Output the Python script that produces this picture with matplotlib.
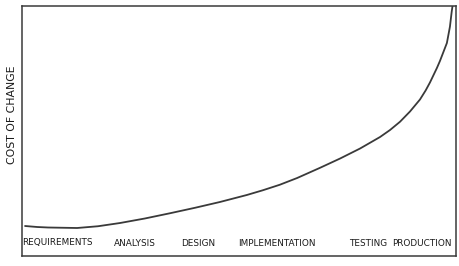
import matplotlib
matplotlib.use("Agg")
from matplotlib import pyplot as plt

plt.rcParams['font.family'] = ['Liberation Sans Narrow', 'DejaVu Sans']

# project timeline (0-100) and cost of change (0-100)
timeline = [0.7, 3.5, 6.0, 12.7, 17.5, 22.6, 28.3, 34.1, 39.9, 45.6, 51.8,
            55.5, 59.4, 63.4, 68.7, 73.3, 77.9, 82.5, 84.8, 87.1, 89.4, 91.7,
            93.0, 94.0, 95.6, 96.3, 97.9, 98.6, 99.0, 99.2]
cost = [12.0, 11.6, 11.4, 11.2, 11.9, 13.2, 15.0, 17.1, 19.3, 21.6, 24.4,
        26.3, 28.5, 31.2, 35.3, 39.0, 43.0, 47.6, 50.4, 53.7, 57.8, 62.6,
        66.2, 69.4, 75.2, 78.0, 85.2, 91.7, 97.6, 100.0]

stages = ['REQUIREMENTS', 'ANALYSIS', 'DESIGN', 'IMPLEMENTATION', 'TESTING', 'PRODUCTION']
stage_pos = [8.1, 26.0, 40.6, 58.8, 79.7, 92.2]

ink = '#3a3a3a'

fig = plt.figure(figsize=(4.6, 2.66), dpi=100)
ax = fig.add_axes([22 / 460, 10 / 266, 434 / 460, 250 / 266])

ax.plot(timeline, cost, color=ink, lw=1.3, solid_capstyle='round',
        solid_joinstyle='round')

ax.set_xlim(0, 100)
ax.set_ylim(0, 100)
ax.set_xticks([])
ax.set_yticks([])
for s in ax.spines.values():
    s.set_color(ink)
    s.set_linewidth(1.1)

for name, x in zip(stages, stage_pos):
    ax.text(x, 5.2, name, ha='center', va='center', fontsize=6.4, color='#1a1a1a')

fig.text(12 / 460, 1 - 115 / 266, 'COST OF CHANGE', rotation=90, ha='center', va='center',
         fontsize=7.8, color='#1a1a1a')

fig.savefig('out.png', dpi=100)
